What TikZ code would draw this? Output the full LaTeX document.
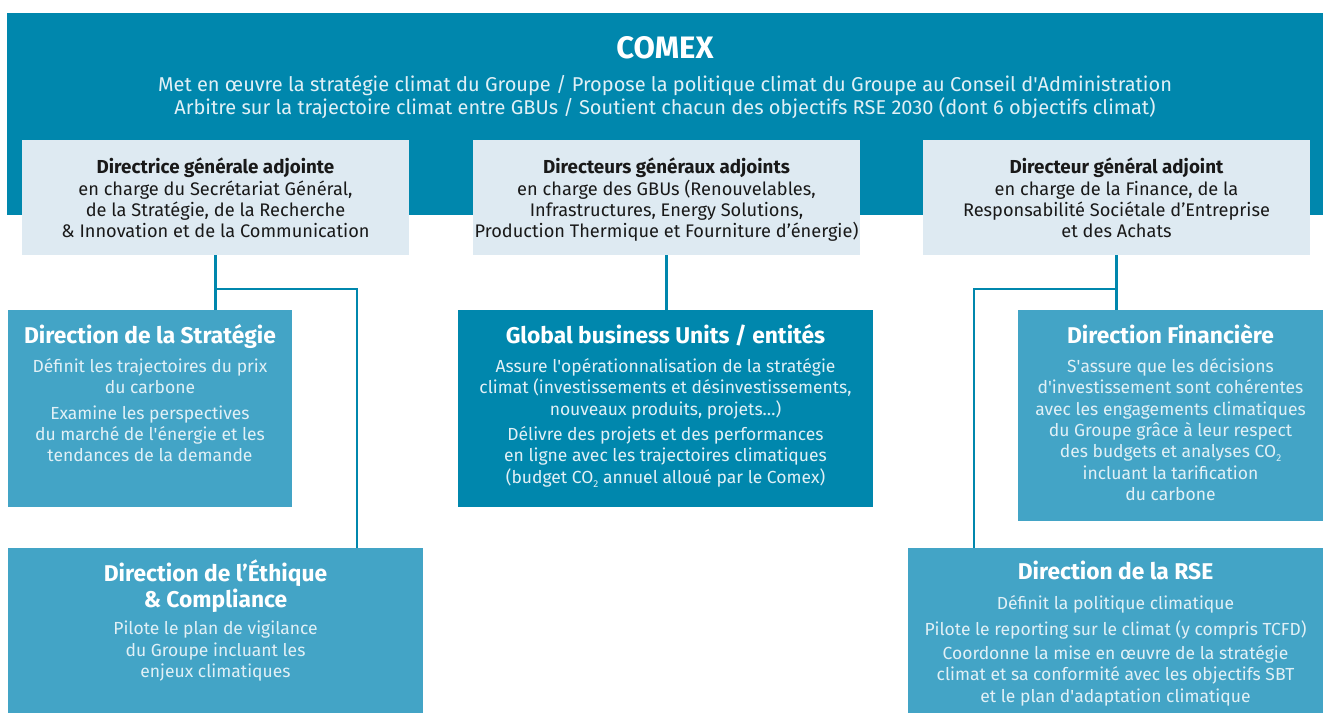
\documentclass[tikz,border=0pt]{standalone}
\usepackage{fontspec}
\setmainfont{Fira Sans}
\usetikzlibrary{positioning, calc}
\definecolor{comexTeal}{RGB}{0, 135, 173}
\definecolor{dirBlue}{RGB}{67, 164, 198}
\definecolor{adjLight}{RGB}{222, 234, 242}
\definecolor{adjText}{RGB}{25, 25, 25}
\definecolor{paleText}{RGB}{225, 240, 246}
\newcommand{\sq}{\textquotesingle}
\newcommand{\cotwo}{CO\raisebox{-4pt}{\fontsize{10}{10}\selectfont 2}}
\newcommand{\dirtitleFont}{\fontsize{22.8}{26}\selectfont\bfseries}
\newcommand{\adjtitleFont}{\fontsize{18.8}{21.3}\selectfont\bfseries}

\begin{document}
\begin{tikzpicture}[x=1pt, y=-1pt,
    box/.style={anchor=north west, inner sep=0pt, outer sep=0pt},
    boxtext/.style={align=center, inner sep=0pt, text=paleText, font=\fontsize{17.5}{21.3}\selectfont},
    adjtext/.style={boxtext, text=adjText, font=\fontsize{18.2}{21.3}\selectfont},
    link/.style={draw=comexTeal, line width=2.8pt}]
    \useasboundingbox (0,0) rectangle (1323,713);

    % Comex
    \node[box, fill=comexTeal, minimum width=1316, minimum height=202] at (7,13) (comex) {};
    \node[boxtext, text=white, font=\fontsize{31}{34}\selectfont\bfseries, below=23pt of comex.north] (comexT) {COMEX};
    \node[boxtext, font=\fontsize{20}{23.5}\selectfont, below=16pt of comexT] (comexB) {Met en œuvre la stratégie climat du Groupe / Propose la politique climat du Groupe au Conseil d\sq Administration\\
        Arbitre sur la trajectoire climat entre GBUs / Soutient chacun des objectifs RSE 2030 (dont 6 objectifs climat)};

    % Directeurs generaux adjoints
    \node[box, fill=adjLight, minimum width=387, minimum height=115] at (22,140) (dga1) {};
    \node[box, fill=adjLight, minimum width=387, minimum height=115] at (473,140) (dga2) {};
    \node[box, fill=adjLight, minimum width=387, minimum height=115] at (923,140) (dga3) {};
    \node[adjtext, below=18pt of dga1.north] {{\adjtitleFont Directrice générale adjointe}\\
        en charge du Secrétariat Général,\\ de la Stratégie, de la Recherche\\ \& Innovation et de la Communication};
    \node[adjtext, below=18pt of dga2.north] {{\adjtitleFont Directeurs généraux adjoints}\\
        en charge des GBUs (Renouvelables,\\ Infrastructures, Energy Solutions,\\ Production Thermique et Fourniture d’énergie)};
    \node[adjtext, below=18pt of dga3.north] {{\adjtitleFont Directeur général adjoint}\\
        en charge de la Finance, de la\\ Responsabilité Sociétale d’Entreprise\\ et des Achats};

    % Directions
    \node[box, fill=dirBlue, minimum width=284, minimum height=197] at (8,310) (strat) {};
    \node[box, fill=comexTeal, minimum width=415, minimum height=197] at (458,310) (gbu) {};
    \node[box, fill=dirBlue, minimum width=305, minimum height=211] at (1018,310) (fin) {};
    \node[box, fill=dirBlue, minimum width=415, minimum height=165] at (8,548) (ethic) {};
    \node[box, fill=dirBlue, minimum width=415, minimum height=165] at (908,548) (rse) {};

    \node[boxtext, below=14pt of strat.north] {{\color{white}\dirtitleFont Direction de la Stratégie}\\[8pt]
        Définit les trajectoires du prix\\ du carbone\\[4pt]
        Examine les perspectives\\ du marché de l\sq énergie et les\\ tendances de la demande};
    \node[boxtext, below=14pt of gbu.north] {{\color{white}\dirtitleFont Global business Units / entités}\\[8pt]
        Assure l\sq opérationnalisation de la stratégie\\ climat (investissements et désinvestissements,\\ nouveaux produits, projets…)\\[4pt]
        Délivre des projets et des performances\\ en ligne avec les trajectoires climatiques\\ (budget \cotwo{} annuel alloué par le Comex)};
    \node[boxtext, below=14pt of fin.north] {{\color{white}\dirtitleFont Direction Financière}\\[8pt]
        S\sq assure que les décisions\\ d\sq investissement sont cohérentes\\ avec les engagements climatiques\\
        du Groupe grâce à leur respect\\ des budgets et analyses \cotwo\\ incluant la tarification\\ du carbone};
    \node[boxtext, below=11pt of ethic.north] {{\color{white}\dirtitleFont Direction de l’Éthique}\\[2pt]
        {\color{white}\dirtitleFont \& Compliance}\\[6pt]
        Pilote le plan de vigilance\\ du Groupe incluant les\\ enjeux climatiques};
    \node[boxtext, below=13pt of rse.north] {{\color{white}\dirtitleFont Direction de la RSE}\\[8pt]
        Définit la politique climatique\\[5pt]
        Pilote le reporting sur le climat (y compris TCFD)\\[3pt]
        Coordonne la mise en œuvre de la stratégie\\ climat et sa conformité avec les objectifs SBT\\ et le plan d\sq adaptation climatique};

    % Liens
    \coordinate (kl) at (357,289);
    \coordinate (kr) at (974,289);
    \draw[link] (dga1.south) -- (dga1.south |- strat.north);
    \draw[link] (dga1.south |- kl) -- (kl) -- (kl |- ethic.north);
    \draw[link] (dga2.south) -- (dga2.south |- gbu.north);
    \draw[link] (dga3.south) -- (dga3.south |- fin.north);
    \draw[link] (dga3.south |- kr) -- (kr) -- (kr |- rse.north);
\end{tikzpicture}
\end{document}
